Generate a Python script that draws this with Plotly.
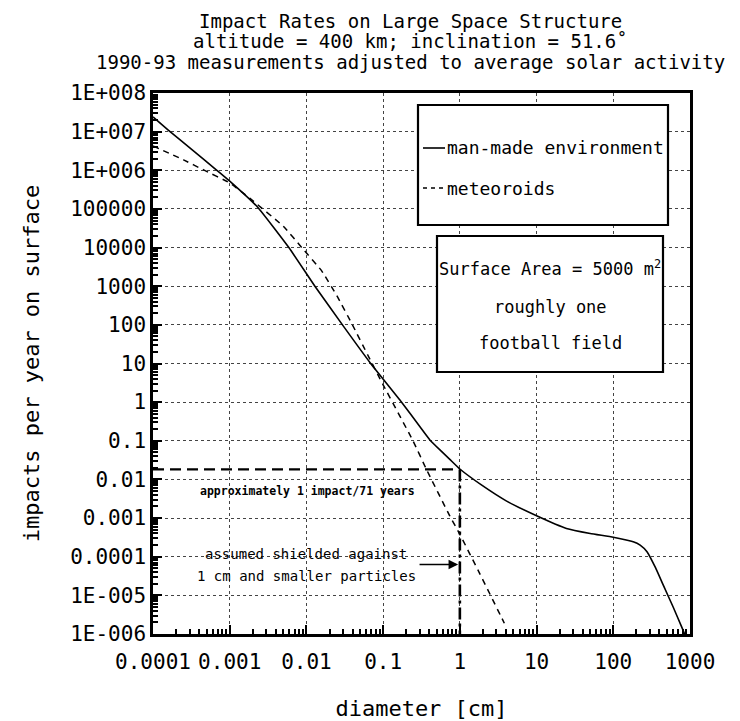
import numpy as np
import plotly.graph_objects as go

# diameter [cm] and impacts per year
man_made_d = [1e-4, 1.58e-4, 3.16e-4, 6.8e-4, 1e-3, 2.3e-3, 5.9e-3, 1.29e-2, 2.95e-2,
              6.76e-2, 0.174, 0.302, 0.407, 0.55, 0.74, 1.0, 1.93, 4.07, 10.0,
              24.5, 50.0, 100.0, 182.0, 224.0, 275.0, 355.0, 447.0, 603.0, 776.0, 851.0]
man_made_n = [2.4e7, 1.1e7, 3.55e6, 1.0e6, 5.25e5, 1.12e5, 1.0e4, 1.0e3, 1.0e2,
              10.5, 1.0, 0.23, 0.105, 0.058, 0.033, 0.0186, 0.0071, 0.00275, 0.00115,
              5.4e-4, 4.0e-4, 3.2e-4, 2.45e-4, 2.0e-4, 1.35e-4, 5.2e-5, 1.86e-5, 5.0e-6, 1.55e-6, 1.0e-6]

meteoroid_d = [1e-4, 2.5e-4, 4.57e-4, 1e-3, 1.82e-3, 5.0e-3, 8.7e-3, 1.58e-2, 2.5e-2,
               3.98e-2, 6.3e-2, 0.1, 0.245, 0.363, 0.741, 1.0, 1.83, 3.55, 3.8]
meteoroid_n = [4.27e6, 1.86e6, 1.02e6, 4.7e5, 1.9e5, 3.55e4, 1.0e4, 2.5e3, 562.0,
               100.0, 16.6, 2.8, 0.1, 0.019, 0.00112, 3.8e-4, 3.55e-5, 2.5e-6, 1.9e-6]

once_d = [1e-4, 1.0]           # horizontal "1 impact / 71 years" line
once_n = [0.0182, 0.0182]
shield_d = [1.0, 1.0]           # vertical shielding limit
shield_n = [0.0182, 1.0e-6]

x_ticks = [1e-4, 1e-3, 1e-2, 1e-1, 1, 10, 100, 1000]
x_labels = ["0.0001", "0.001", "0.01", "0.1", "1", "10", "100", "1000"]
y_ticks = [10.0 ** k for k in range(8, -7, -1)]
y_labels = ["1E+008", "1E+007", "1E+006", "100000", "10000", "1000", "100", "10",
            "1", "0.1", "0.01", "0.001", "0.0001", "1E-005", "1E-006"]

FONT = "DejaVu Sans Mono"
W, H = 740, 721
L, T, PW, PH = 153, 93, 537, 541


def px(x):
    # page pixel -> paper x
    return (x - L) / PW


def py(y):
    return (T + PH - y) / PH


fig = go.Figure()

fig.add_trace(go.Scatter(x=man_made_d, y=man_made_n, mode="lines",
                         line=dict(color="black", width=1.6, shape="spline", smoothing=0.4),
                         showlegend=False))
fig.add_trace(go.Scatter(x=meteoroid_d, y=meteoroid_n, mode="lines",
                         line=dict(color="black", width=1.5, dash="6px,5px", shape="spline", smoothing=0.35),
                         showlegend=False))
fig.add_trace(go.Scatter(x=once_d, y=once_n, mode="lines",
                         line=dict(color="black", width=2.2, dash="11px,6px"),
                         showlegend=False))
fig.add_trace(go.Scatter(x=shield_d, y=shield_n, mode="lines",
                         line=dict(color="black", width=2.6, dash="12px,4px,3px,4px"),
                         showlegend=False))

axis_common = dict(
    type="log", showline=True, linecolor="black", linewidth=2.5, mirror=True,
    showgrid=True, gridcolor="#444", gridwidth=1, griddash="dot",
    ticks="inside", ticklen=9, tickcolor="black", tickwidth=1.5,
    minor=dict(ticks="inside", ticklen=5, tickcolor="black", dtick="D1", showgrid=False),
    zeroline=False, automargin=False,
    tickfont=dict(family=FONT, size=21, color="black"),
    title_font=dict(family=FONT, size=22, color="black"),
)

fig.update_xaxes(**axis_common, range=[-4, 3], tickvals=x_ticks, ticktext=x_labels,
                 ticklabelstandoff=7, title_text="diameter [cm]", title_standoff=29)
fig.update_yaxes(**axis_common, range=[-6, 8], tickvals=y_ticks, ticktext=y_labels,
                 title_text="impacts per year on surface", title_standoff=25)

titles = ["Impact Rates on Large Space Structure",
          "altitude = 400 km; inclination = 51.6˚",
          "1990-93 measurements adjusted to average solar activity"]
for t, yy in zip(titles, [21, 41, 62]):
    fig.add_annotation(text=t, xref="paper", yref="paper", x=px(410), y=py(yy),
                       showarrow=False, xanchor="center", yanchor="middle",
                       font=dict(family=FONT, size=19, color="black"))

# legend box
fig.add_shape(type="rect", xref="paper", yref="paper", x0=px(418), x1=px(668), y0=py(225), y1=py(105),
              line=dict(color="black", width=2.2), fillcolor="white", layer="above")
fig.add_shape(type="line", xref="paper", yref="paper", x0=px(423), x1=px(445), y0=py(148), y1=py(148),
              line=dict(color="black", width=1.6), layer="above")
fig.add_shape(type="line", xref="paper", yref="paper", x0=px(423), x1=px(445), y0=py(188), y1=py(188),
              line=dict(color="black", width=1.5, dash="4px,4px"), layer="above")
fig.add_annotation(text="man-made environment", xref="paper", yref="paper", x=px(445), y=py(148),
                   showarrow=False, xanchor="left", yanchor="middle",
                   font=dict(family=FONT, size=18, color="black"))
fig.add_annotation(text="meteoroids", xref="paper", yref="paper", x=px(445), y=py(188),
                   showarrow=False, xanchor="left", yanchor="middle",
                   font=dict(family=FONT, size=18, color="black"))

# surface area box
fig.add_shape(type="rect", xref="paper", yref="paper", x0=px(437), x1=px(663), y0=py(372), y1=py(236),
              line=dict(color="black", width=2.2), fillcolor="white", layer="above")
box_lines = ["Surface Area = 5000 m<sup>2</sup>", "roughly one", "football field"]
for t, yy in zip(box_lines, [268, 307, 343]):
    fig.add_annotation(text=t, xref="paper", yref="paper", x=px(550), y=py(yy),
                       showarrow=False, xanchor="center", yanchor="middle",
                       font=dict(family=FONT, size=17, color="black"))

fig.add_annotation(text="<b>approximately 1 impact/71 years</b>", xref="x", yref="y",
                   x=-1.99, y=-2.31, showarrow=False,
                   font=dict(family=FONT, size=11.5, color="black"))
fig.add_annotation(text="assumed shielded against", xref="x", yref="y", x=-2.0, y=-3.94,
                   showarrow=False, font=dict(family=FONT, size=14, color="black"))
fig.add_annotation(text="1 cm and smaller particles", xref="x", yref="y", x=-2.0, y=-4.51,
                   showarrow=False, font=dict(family=FONT, size=14, color="black"))
fig.add_annotation(x=np.log10(0.95), y=-4.2, ax=-0.545, ay=-4.2,
                   xref="x", yref="y", axref="x", ayref="y", text="", showarrow=True,
                   arrowhead=2, arrowsize=1.2, arrowwidth=1.6, arrowcolor="black")

fig.update_layout(
    width=W, height=H,
    margin=dict(l=L, r=W - L - PW, t=T, b=H - T - PH),
    plot_bgcolor="white", paper_bgcolor="white",
    font=dict(family=FONT, color="black"),
)

# drop the page's default body margin so the figure sits at the window origin
fig.write_html("out.html", config={"displayModeBar": False},
               post_script="document.body.style.margin = '0';")
